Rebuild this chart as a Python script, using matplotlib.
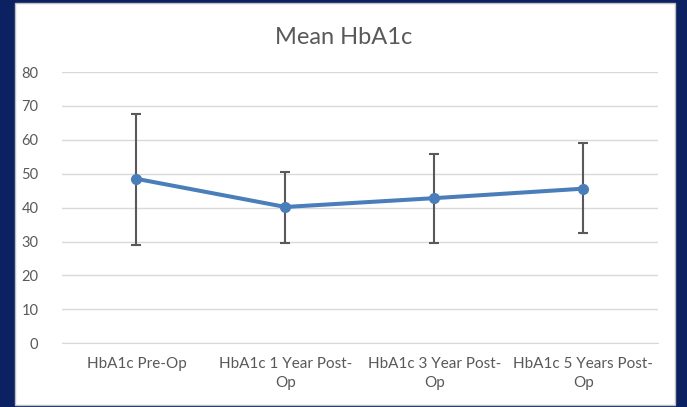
import matplotlib
matplotlib.use("Agg")
import matplotlib.pyplot as plt
from matplotlib.patches import Rectangle

categories = ["HbA1c Pre-Op", "HbA1c 1 Year Post-\nOp", "HbA1c 3 Year Post-\nOp", "HbA1c 5 Years Post-\nOp"]
means = [48.5, 40.2, 42.8, 45.6]
upper = [67.7, 50.5, 55.8, 59.2]
lower = [28.9, 29.6, 29.6, 32.4]
yticks = [0, 10, 20, 30, 40, 50, 60, 70, 80]

plt.rcParams['font.family'] = ['Lato', 'DejaVu Sans']
text_col = "#595959"

fig = plt.figure(figsize=(6.87, 4.07), dpi=100)
fig.patch.set_facecolor("#0c2162")
fig.patches.append(Rectangle((15 / 687, 2 / 407), 660 / 687, 402 / 407,
                             transform=fig.transFigure, facecolor="white",
                             edgecolor="#bfbfbf", linewidth=1, zorder=-5))

ax = fig.add_axes([62 / 687, 1 - 343.3 / 407, (657.7 - 62) / 687, (343.3 - 72) / 407])
ax.set_facecolor("none")

x = list(range(len(categories)))
yerr = [[m - l for m, l in zip(means, lower)], [u - m for m, u in zip(means, upper)]]
ax.errorbar(x, means, yerr=yerr, fmt="none", ecolor="#595959", elinewidth=1.5,
            capsize=3.5, capthick=1.5, zorder=3)
ax.plot(x, means, color="#4a7ebb", linewidth=2.9, marker="o", markersize=7, zorder=4)

ax.set_xlim(-0.5, len(categories) - 0.5)
ax.set_ylim(0, 80)
ax.set_yticks(yticks)
ax.set_xticks(x)
ax.set_xticklabels(categories, fontsize=11, color=text_col, linespacing=1.4)
ax.tick_params(axis="y", labelsize=10.5, labelcolor=text_col, length=0, pad=17)
ax.tick_params(axis="x", length=0, pad=10)
ax.grid(axis="y", color="#d9d9d9", linewidth=1)
ax.set_axisbelow(True)
for s in ["top", "right", "left"]:
    ax.spines[s].set_visible(False)
ax.spines["bottom"].set_color("#d9d9d9")

fig.text(0.5, 1 - 38 / 407, "Mean HbA1c", ha="center", va="center", fontsize=17, color=text_col)

fig.savefig("out.png", dpi=100, facecolor=fig.get_facecolor())
